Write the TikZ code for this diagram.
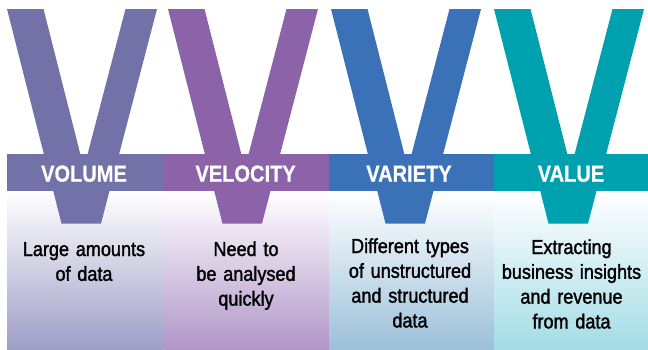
\documentclass[tikz,border=0pt]{standalone}
\usepackage{fontspec}
\setmainfont{Liberation Sans}
\newfontfamily\bandfont[FakeStretch=0.86,FakeBold=0.6]{Liberation Sans}
\newfontfamily\bodyfont[FakeStretch=0.89,FakeBold=1.6]{Liberation Sans}
\definecolor{cvol}{HTML}{7271A8}
\definecolor{cvel}{HTML}{8C62A8}
\definecolor{cvar}{HTML}{3B71B6}
\definecolor{cval}{HTML}{00A1AE}
\definecolor{pvol}{HTML}{9F9EC7}
\definecolor{pvel}{HTML}{B196C8}
\definecolor{pvar}{HTML}{9CC0DA}
\definecolor{pval}{HTML}{A3DCE5}
\tikzset{
  panel/.style={top color=white, bottom color=#1, draw=none},
  bandtext/.style={text=white, font=\bandfont\bfseries\fontsize{23.3}{28}\selectfont, anchor=base, inner sep=0pt},
  bodytext/.style={text=black, font=\bodyfont\fontsize{20.3}{24.8}\selectfont, align=center, text width=160pt, anchor=base, inner sep=0pt},
  vletter/.pic={
    \fill[#1] (-75,9) -- (-20.5,223.5) -- (19,223.5) -- (75,9) -- (43.5,9) -- (1.9,168.2) -- (-38.5,9) -- cycle;
  }
}
\begin{document}
\begin{tikzpicture}[x=1pt,y=-1pt]
\useasboundingbox (0,0) rectangle (648,349);
% panels
\shade[panel=pvol] (7,191) rectangle (163.5,349);
\shade[panel=pvel] (163.5,191) rectangle (329,349);
\shade[panel=pvar] (329,191) rectangle (494,349);
\shade[panel=pval] (494,191) rectangle (648,349);
% V letters
\pic at (82,0) {vletter=cvol};
\pic at (243,0) {vletter=cvel};
\pic at (406,0) {vletter=cvar};
\pic at (569,0) {vletter=cval};
% bands
\fill[cvol] (7,154) rectangle (163.5,191.3);
\fill[cvel] (163.5,154) rectangle (329,191.3);
\fill[cvar] (329,154) rectangle (494,191.3);
\fill[cval] (494,154) rectangle (648,191.3);
% band labels
\node[bandtext] (t1) at (84,181.7) {VOLUME};
\node[bandtext] (t2) at (245.6,181.7) {VELOCITY};
\node[bandtext] (t3) at (409,181.7) {VARIETY};
\node[bandtext] (t4) at (571,181.7) {VALUE};
% descriptions
\node[bodytext] (b1) at (84,256) {Large amounts\\of data};
\node[bodytext] (b2) at (246,256) {Need to\\be analysed\\quickly};
\node[bodytext] (b3) at (410,253) {Different types\\of unstructured\\and structured\\data};
\node[bodytext] (b4) at (571.5,254) {Extracting\\business insights\\and revenue\\from data};
\end{tikzpicture}
\end{document}
